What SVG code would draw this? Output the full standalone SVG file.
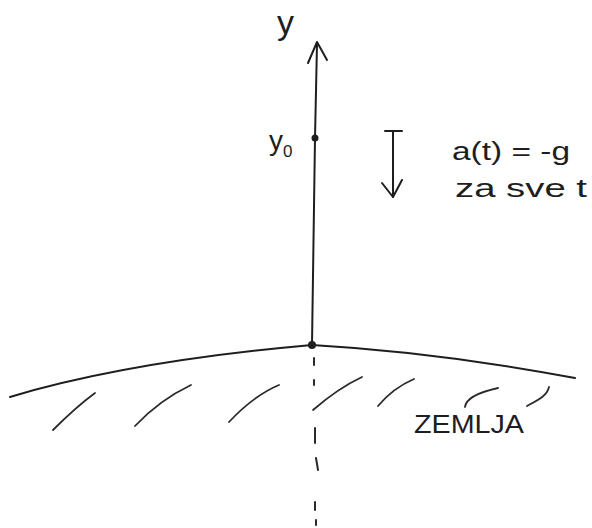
<svg xmlns="http://www.w3.org/2000/svg" width="592" height="528" viewBox="0 0 592 528">
<style>
.ink{fill:none;stroke:#1e1e1e;stroke-width:2;stroke-linecap:round;stroke-linejoin:round}
.hatch{fill:none;stroke:#2a2a2a;stroke-width:1.8;stroke-linecap:round}
.dash{fill:none;stroke:#2a2a2a;stroke-width:2;stroke-linecap:round}
.t{font-family:"Liberation Sans","DejaVu Sans",sans-serif;fill:#1e1e1e}
</style>
<rect width="592" height="528" fill="#ffffff"/>
<g id="connectors">
<g id="y-axis">
<path class="ink" d="M312,345 L315,138 L317,44"/>
<polyline class="ink" points="308,63 317,42 327,60"/>
</g>
<g id="gravity-arrow">
<line class="ink" x1="385" y1="131" x2="402" y2="131"/>
<line class="ink" x1="393" y1="131" x2="393" y2="197"/>
<polyline class="ink" points="382,183 393,197 402,180"/>
</g>
<g id="dashed-line">
<line class="dash" x1="314" y1="358" x2="314" y2="365"/>
<line class="dash" x1="314" y1="380" x2="314" y2="385"/>
<line class="dash" x1="315" y1="428" x2="315" y2="443"/>
<line class="dash" x1="316" y1="458" x2="318" y2="470"/>
<line class="dash" x1="315" y1="502" x2="315" y2="510"/>
<line class="dash" x1="316" y1="520" x2="316" y2="525"/>
</g>
</g>
<g id="ground">
<path class="ink" d="M10,397 C100,370 200,355 312,345 C400,350 490,362 575,378"/>
<path class="hatch" d="M53,430 C65,418 80,404 95,393"/>
<path class="hatch" d="M135,426 C150,410 170,395 191,385"/>
<path class="hatch" d="M229,422 C243,407 260,393 279,385"/>
<path class="hatch" d="M313,410 C328,397 345,385 362,377"/>
<path class="hatch" d="M378,406 C388,394 400,385 414,379"/>
<path class="hatch" d="M465,407 C466,398 480,392 498,388"/>
<path class="hatch" d="M527,406 C538,400 547,396 549,387"/>
<text class="t" x="414" y="433" font-size="26" textLength="110" lengthAdjust="spacingAndGlyphs">ZEMLJA</text>
</g>
<g id="node-y">
<text class="t" x="277" y="34" font-size="34">y</text>
</g>
<g id="node-y0">
<circle cx="315" cy="138" r="3.5" fill="#1e1e1e"/>
<text class="t" x="269" y="150" font-size="28">y<tspan font-size="17" dy="7">0</tspan></text>
</g>
<g id="node-origin">
<circle cx="312" cy="345" r="4" fill="#1e1e1e"/>
</g>
<g id="label-acc">
<text class="t" x="452" y="160" font-size="26" textLength="118" lengthAdjust="spacingAndGlyphs">a(t) = -g</text>
<text class="t" x="455" y="197" font-size="26" textLength="132" lengthAdjust="spacingAndGlyphs">za sve t</text>
</g>
</svg>
